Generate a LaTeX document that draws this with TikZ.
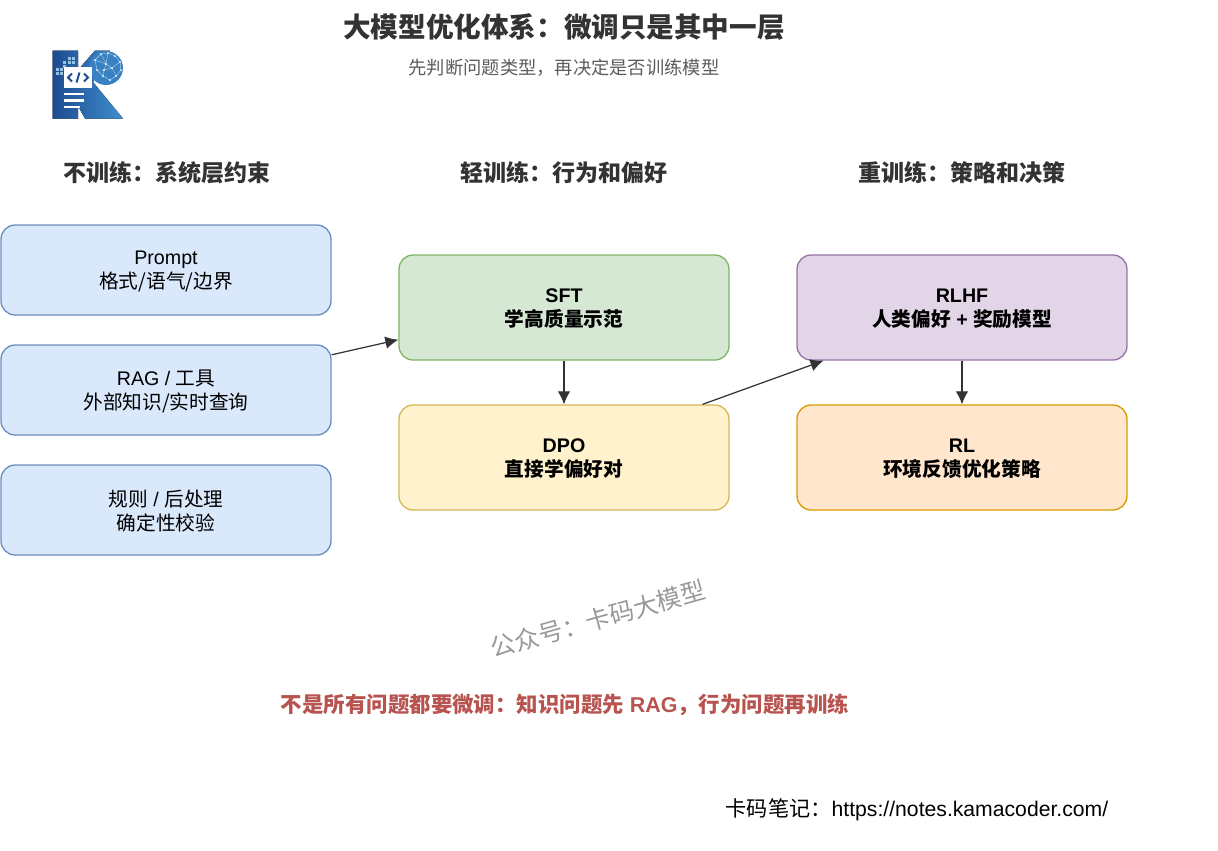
\documentclass[tikz,border=0pt]{standalone}
\usepackage{fontspec}
\usetikzlibrary{arrows.meta}
\setmainfont{Liberation Sans}
\newfontfamily\cjk{Noto Sans CJK SC}
\definecolor{ink}{HTML}{333333}
\definecolor{warn}{HTML}{B85450}
\definecolor{kdark}{HTML}{1D4B8F}
\definecolor{klight}{HTML}{3F8FCF}
\definecolor{lowfill}{HTML}{DAE8FC}
\definecolor{lowline}{HTML}{6C8EBF}
\definecolor{sftfill}{HTML}{D5E8D4}
\definecolor{sftline}{HTML}{82B366}
\definecolor{dpofill}{HTML}{FFF2CC}
\definecolor{dpoline}{HTML}{D6B656}
\definecolor{rlhffill}{HTML}{E1D5E7}
\definecolor{rlhfline}{HTML}{9673A6}
\definecolor{rlfill}{HTML}{FFE6CC}
\definecolor{rlline}{HTML}{D79B00}
\begin{document}
\begin{tikzpicture}[
x=0.02cm,y=-0.02cm,
box/.style={%
draw,
line width=0.75pt,
rounded corners=0.28cm,
minimum width=6.6cm,
align=center,
text=black,
text depth=0pt,
font=\fontsize{11.2}{13.5}\selectfont,
},
low/.style={%
box,
minimum height=1.8cm,
fill=lowfill,
draw=lowline,
},
high/.style={%
box,
minimum height=2.1cm,
font=\fontsize{11.2}{13.5}\selectfont\bfseries,
},
head/.style={
font=\fontsize{13.1}{16}\selectfont\bfseries\cjk,
text=ink,
},
link/.style={
-{Latex[length=2.6mm,width=2.5mm]},
line width=0.7pt,
color=ink,
}
]

\useasboundingbox(0,0)rectangle(1218,850);

%logo
\fill[left color=kdark,right color=klight](52.5,50.5)--(78,50.5)--(78,70)--(95,50.5)--(110,50.5)--(93,82)--(123,118.5)--(85,118.5)--(78,106)--(78,118.5)--(52.5,118.5)--cycle;
\fill[klight!80!kdark](106,68)circle(17);
\foreach\bx/\by in {68/57,72/57,68/61,72/61,63/61,63/65,56/68,60/68,56/72,60/72}
\fill[klight!55!white](\bx,\by)rectangle(\bx+3,\by+3);
\foreach\bx/\by in {95/60,101/54,108/53,115/56,120/62,121/70,116/76,110/80,103/76,97/70,106/64,112/68,104/70}
\fill[white](\bx,\by)circle(1);
\draw[white,opacity=0.6,line width=0.25pt](95,60)--(101,54)--(108,53)--(115,56)--(120,62)--(121,70)--(116,76)--(110,80)--(103,76)--(97,70)--(95,60)--(106,64)--(101,54);
\draw[white,opacity=0.6,line width=0.25pt](108,53)--(106,64)--(112,68)--(120,62);
\draw[white,opacity=0.6,line width=0.25pt](97,70)--(104,70)--(106,64);
\draw[white,opacity=0.6,line width=0.25pt](104,70)--(112,68)--(116,76);
\draw[white,opacity=0.6,line width=0.25pt](104,70)--(103,76);
\fill[white](64,67)rectangle(92,88);
\draw[kdark,line width=1.1pt](72,73.5)--(68,77.5)--(72,81.5);
\draw[kdark,line width=1.1pt](84,73.5)--(88,77.5)--(84,81.5);
\draw[kdark,line width=1.1pt](79.5,72.5)--(76.5,82.5);
\fill[white](64,92.5)rectangle(84,95);
\fill[white](64,99)rectangle(84,101.5);
\fill[white](64,105.5)rectangle(80,108);

%titles
\node[font=\fontsize{15.7}{18}\selectfont\bfseries\cjk,text=ink](title)at(564,27){大模型优化体系：微调只是其中一层};
\node[font=\fontsize{10.4}{13}\selectfont\cjk,text=ink!80](subtitle)at(564,68){先判断问题类型，再决定是否训练模型};
\node[head](headlow)at(167,173){不训练：系统层约束};
\node[head](headmid)at(564,173){轻训练：行为和偏好};
\node[head](headhigh)at(962,173){重训练：策略和决策};

%no training
\node[low](prompt)at(166,270){Prompt\\{\cjk 格式/语气/边界}};
\node[low](rag)at(166,390){RAG / {\cjk 工具}\\{\cjk 外部知识/实时查询}};
\node[low](rules)at(166,510){{\cjk 规则} / {\cjk 后处理}\\{\cjk 确定性校验}};

%light training
\node[high,fill=sftfill,draw=sftline](sft)at(564,307.5){SFT\\{\cjk 学高质量示范}};
\node[high,fill=dpofill,draw=dpoline](dpo)at(564,457.5){DPO\\{\cjk 直接学偏好对}};

%heavy training
\node[high,fill=rlhffill,draw=rlhfline](rlhf)at(962,307.5){RLHF\\{\cjk 人类偏好} + {\cjk 奖励模型}};
\node[high,fill=rlfill,draw=rlline](rl)at(962,457.5){RL\\{\cjk 环境反馈优化策略}};

\draw[link](rag.12)--(sft.191.4);
\draw[link](sft.south)--(dpo.north);
\draw[link](dpo.21.7)--(rlhf.201.7);
\draw[link](rlhf.south)--(rl.north);

\node[font=\fontsize{14}{17}\selectfont\cjk,text=black!40,rotate=15.6](mark)at(598,619){公众号：卡码大模型};
\node[font=\fontsize{12.2}{15}\selectfont\bfseries,text=warn](note)at(565,705){{\cjk 不是所有问题都要微调：知识问题先} RAG{\cjk ，行为问题再训练}};
\node[font=\fontsize{12.05}{14}\selectfont,text=black](site)at(917,810){{\cjk 卡码笔记：}https://notes.kamacoder.com/};
\end{tikzpicture}
\end{document}
